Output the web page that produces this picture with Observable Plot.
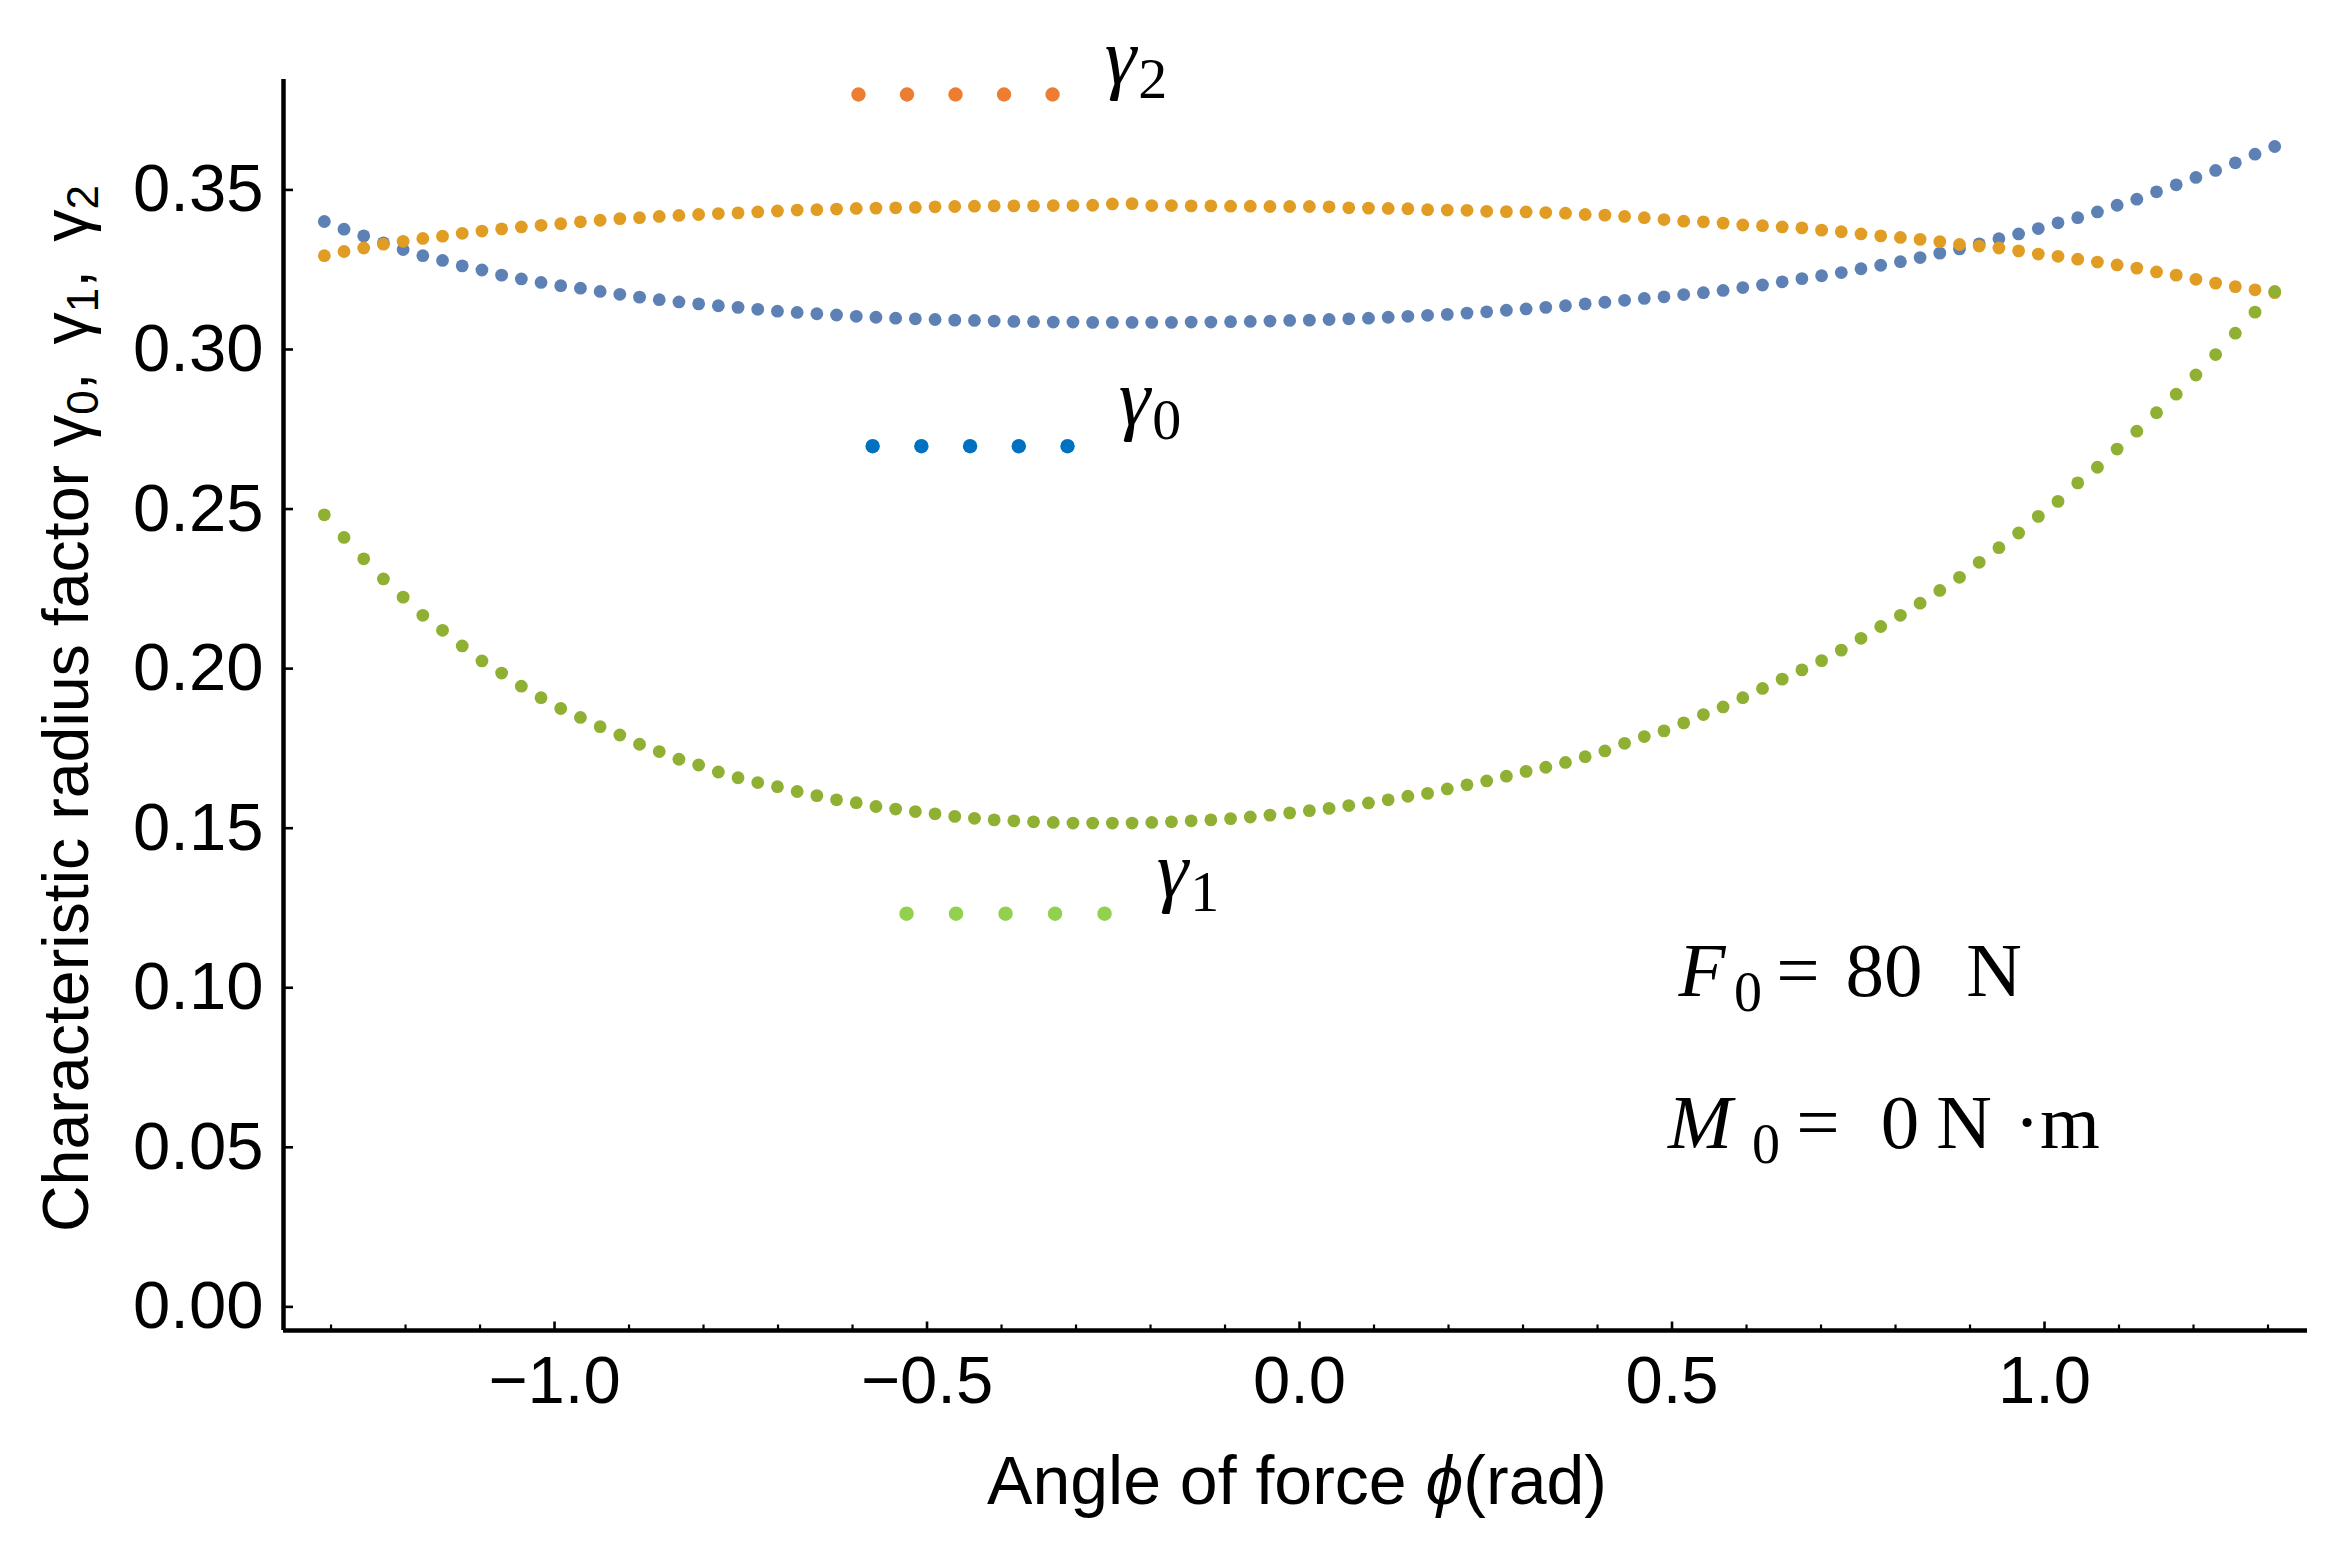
<!DOCTYPE html>
<html>
<head>
<meta charset="utf-8">
<script src="https://cdn.jsdelivr.net/npm/d3@7"></script>
<script src="https://cdn.jsdelivr.net/npm/@observablehq/plot@0.6"></script>
<style>
  html, body { margin: 0; padding: 0; background: #ffffff; }
  #chart svg { display: block; }
</style>
</head>
<body>
<div id="chart"></div>
<script>
// ---------------- data ----------------
// sampling grid of the force angle phi (rad): 100 equally spaced samples
const phiStart = -1.309, phiEnd = 1.309, phiCount = 100;

// gamma0 (blue)
const gamma0 = [
  0.3401, 0.3377, 0.3356, 0.3334, 0.3313, 0.3294, 0.3279, 0.3262, 0.3249, 0.3233,
  0.3221, 0.3210, 0.3200, 0.3192, 0.3182, 0.3173, 0.3164, 0.3156, 0.3149, 0.3143,
  0.3137, 0.3132, 0.3126, 0.3120, 0.3116, 0.3112, 0.3108, 0.3104, 0.3101, 0.3098,
  0.3096, 0.3094, 0.3092, 0.3091, 0.3089, 0.3088, 0.3087, 0.3086, 0.3086, 0.3085,
  0.3085, 0.3085, 0.3085, 0.3085, 0.3086, 0.3086, 0.3087, 0.3088, 0.3089, 0.3091,
  0.3092, 0.3094, 0.3096, 0.3098, 0.3101, 0.3104, 0.3107, 0.3110, 0.3114, 0.3118,
  0.3123, 0.3127, 0.3132, 0.3137, 0.3143, 0.3148, 0.3154, 0.3160, 0.3165, 0.3172,
  0.3178, 0.3185, 0.3194, 0.3202, 0.3212, 0.3222, 0.3231, 0.3241, 0.3253, 0.3264,
  0.3275, 0.3288, 0.3302, 0.3315, 0.3331, 0.3347, 0.3362, 0.3379, 0.3397, 0.3413,
  0.3431, 0.3452, 0.3471, 0.3494, 0.3516, 0.3539, 0.3561, 0.3585, 0.3612, 0.3636
];

// gamma2 (orange)
const gamma2 = [
  0.3294, 0.3307, 0.3318, 0.3330, 0.3339, 0.3348, 0.3355, 0.3364, 0.3371, 0.3378,
  0.3384, 0.3389, 0.3394, 0.3400, 0.3405, 0.3410, 0.3413, 0.3417, 0.3420, 0.3423,
  0.3426, 0.3428, 0.3431, 0.3434, 0.3437, 0.3438, 0.3440, 0.3442, 0.3443, 0.3444,
  0.3445, 0.3447, 0.3448, 0.3449, 0.3450, 0.3450, 0.3450, 0.3451, 0.3451, 0.3452,
  0.3456, 0.3457, 0.3451, 0.3451, 0.3450, 0.3450, 0.3449, 0.3449, 0.3448, 0.3448,
  0.3448, 0.3447, 0.3444, 0.3443, 0.3442, 0.3441, 0.3438, 0.3437, 0.3436, 0.3433,
  0.3432, 0.3431, 0.3429, 0.3427, 0.3423, 0.3421, 0.3417, 0.3413, 0.3407, 0.3402,
  0.3400, 0.3396, 0.3390, 0.3388, 0.3384, 0.3381, 0.3374, 0.3369, 0.3362, 0.3356,
  0.3351, 0.3345, 0.3338, 0.3329, 0.3324, 0.3318, 0.3309, 0.3299, 0.3292, 0.3283,
  0.3274, 0.3265, 0.3255, 0.3243, 0.3233, 0.3220, 0.3208, 0.3197, 0.3187, 0.3178
];

// gamma1 (green)
const gamma1 = [
  0.2482, 0.2411, 0.2344, 0.2281, 0.2224, 0.2167, 0.2120, 0.2071, 0.2024, 0.1986,
  0.1945, 0.1909, 0.1875, 0.1847, 0.1818, 0.1792, 0.1763, 0.1740, 0.1716, 0.1698,
  0.1676, 0.1658, 0.1643, 0.1630, 0.1615, 0.1602, 0.1589, 0.1580, 0.1568, 0.1560,
  0.1552, 0.1545, 0.1537, 0.1531, 0.1526, 0.1523, 0.1520, 0.1518, 0.1516, 0.1516,
  0.1516, 0.1516, 0.1518, 0.1520, 0.1523, 0.1526, 0.1530, 0.1535, 0.1541, 0.1548,
  0.1555, 0.1562, 0.1571, 0.1579, 0.1589, 0.1600, 0.1609, 0.1623, 0.1636, 0.1648,
  0.1663, 0.1678, 0.1691, 0.1706, 0.1724, 0.1742, 0.1766, 0.1787, 0.1805, 0.1830,
  0.1856, 0.1880, 0.1909, 0.1938, 0.1967, 0.1996, 0.2025, 0.2058, 0.2095, 0.2132,
  0.2167, 0.2205, 0.2245, 0.2286, 0.2333, 0.2379, 0.2425, 0.2477, 0.2524, 0.2582,
  0.2631, 0.2688, 0.2744, 0.2802, 0.2860, 0.2920, 0.2984, 0.3051, 0.3117, 0.3182
];

// tick labels
const xMajorTicks = [-1.0, -0.5, 0.0, 0.5, 1.0];
const yMajorTicks = [0.00, 0.05, 0.10, 0.15, 0.20, 0.25, 0.30, 0.35];

// annotation texts
const seriesNames = ["γ0", "γ1", "γ2"];
const xTitle = "Angle of force ";
const yTitle = "Characteristic radius factor ";

// ---------------- layout / style ----------------
const W = 2349, H = 1554;
const mL = 283, mR = 42, mT = 79, mB = 224;
const plotW = W - mL - mR, plotH = H - mT - mB;
const xDomain = [-1.3638, 1.3530];
const yDomain = [-0.0074, 0.3846];

const dataColors = { g0: "#5E81B5", g1: "#8FB032", g2: "#E19C24" };
const legendColors = { g0: "#0070C0", g1: "#92D050", g2: "#ED7D31" };

// legend sample rows (placement in data units) — layout, not data
const legendLayout = [
  { key: "g2", x0: -0.592, x1: -0.3315, y: 0.3799 },
  { key: "g0", x0: -0.573, x1: -0.3114, y: 0.2697 },
  { key: "g1", x0: -0.5275, x1: -0.2617, y: 0.1232 }
];

const phi = d3.range(phiCount).map(i => phiStart + i * (phiEnd - phiStart) / (phiCount - 1));
const rows = (vals) => vals.map((v, i) => ({ x: phi[i], y: v }));

const legendDots = legendLayout.flatMap(l =>
  d3.range(5).map(k => ({ key: l.key, x: l.x0 + k * (l.x1 - l.x0) / 4, y: l.y }))
);

const xMinorTicks = d3.range(-13, 14).filter(d => d % 5 !== 0).map(d => d / 10);

const sansFont = "'Liberation Sans', Arial, 'DejaVu Sans', sans-serif";
const serifFont = "'Liberation Serif', 'DejaVu Serif', serif";

const svg = Plot.plot({
  width: W,
  height: H,
  marginLeft: mL, marginRight: mR, marginTop: mT, marginBottom: mB,
  x: { domain: xDomain },
  y: { domain: yDomain },
  style: { fontFamily: sansFont, background: "#ffffff", color: "#000" },
  marks: [
    Plot.dot(rows(gamma0), { x: "x", y: "y", r: 6.4, fill: dataColors.g0, stroke: "none" }),
    Plot.dot(rows(gamma2), { x: "x", y: "y", r: 6.4, fill: dataColors.g2, stroke: "none" }),
    Plot.dot(rows(gamma1), { x: "x", y: "y", r: 6.4, fill: dataColors.g1, stroke: "none" }),
    Plot.dot(legendDots, { x: "x", y: "y", r: 7.2, fill: d => legendColors[d.key], stroke: "none" }),
    Plot.tickX(xMinorTicks, { x: d => d, stroke: "#000", strokeWidth: 2.2, insetTop: plotH - 5.5 }),
    Plot.tickX(xMajorTicks, { x: d => d, stroke: "#000", strokeWidth: 2.6, insetTop: plotH - 8.5 }),
    Plot.tickY(yMajorTicks, { y: d => d, stroke: "#000", strokeWidth: 2.6, insetRight: plotW - 10 }),
    Plot.ruleY([yDomain[0]], { stroke: "#000", strokeWidth: 4.5 }),
    Plot.ruleX([xDomain[0]], { stroke: "#000", strokeWidth: 4.5 }),
    Plot.axisX(xMajorTicks, { tickSize: 0, tickPadding: 25, fontSize: 67, tickFormat: d3.format(".1f"), label: null }),
    Plot.axisY(yMajorTicks, { tickSize: 0, tickPadding: 20, fontSize: 67, tickFormat: d3.format(".2f"), label: null })
  ]
});

const root = d3.select(svg);

// ---- series labels (gamma with subscripts) ----
const gammaLabels = [
  { name: seriesNames[2], x: 1136, baseline: 84 },
  { name: seriesNames[0], x: 1150, baseline: 425 },
  { name: seriesNames[1], x: 1188, baseline: 897 }
];
for (const g of gammaLabels) {
  const t = root.append("text")
    .attr("x", g.x).attr("y", g.baseline)
    .attr("font-family", serifFont).attr("font-size", 80).attr("fill", "#000");
  t.append("tspan").attr("font-style", "italic").text(g.name[0]);
  t.append("tspan").attr("font-size", 58).attr("dy", 14).attr("dx", 2).text(g.name.slice(1));
}

// ---- F0 and M0 annotations (each piece its own text element) ----
function mathLine(pieces, baseline) {
  for (const p of pieces) {
    const s = root.append("text")
      .attr("x", p.x).attr("y", baseline + (p.sub ? 15 : 0))
      .attr("font-family", serifFont)
      .attr("font-size", p.sub ? 56 : 77)
      .attr("fill", "#000")
      .text(p.t);
    if (p.it) s.attr("font-style", "italic");
  }
}
mathLine([
  { t: "F", x: 1702, it: true },
  { t: "0", x: 1748, sub: true },
  { t: "=", x: 1798 },
  { t: "80", x: 1884 },
  { t: "N", x: 1994 }
], 996);
mathLine([
  { t: "M", x: 1700, it: true },
  { t: "0", x: 1766, sub: true },
  { t: "=", x: 1818 },
  { t: "0", x: 1900 },
  { t: "N", x: 1964 },
  { t: "·", x: 2027 },
  { t: "m", x: 2070 }
], 1148);

// ---- axis titles ----
const xt = root.append("text")
  .attr("x", 1297).attr("y", 1504).attr("text-anchor", "middle")
  .attr("font-family", sansFont).attr("font-size", 68).attr("fill", "#000");
xt.append("tspan").text(xTitle);
xt.append("tspan").attr("font-style", "italic").text("ϕ");
xt.append("tspan").text("(rad)");

const yt = root.append("text")
  .attr("transform", "translate(88,1232) rotate(-90)")
  .attr("text-anchor", "start")
  .attr("font-family", sansFont).attr("font-size", 64.5).attr("fill", "#000");
yt.append("tspan").text(yTitle);
seriesNames.forEach((nm, i) => {
  yt.append("tspan").attr("dx", i === 0 ? 0 : 10).text(nm[0]);
  yt.append("tspan").attr("font-size", 44).attr("dy", 10).text(nm.slice(1));
  if (i < seriesNames.length - 1) yt.append("tspan").attr("dy", -10).text(", ");
});

document.getElementById("chart").appendChild(svg);
</script>
</body>
</html>
